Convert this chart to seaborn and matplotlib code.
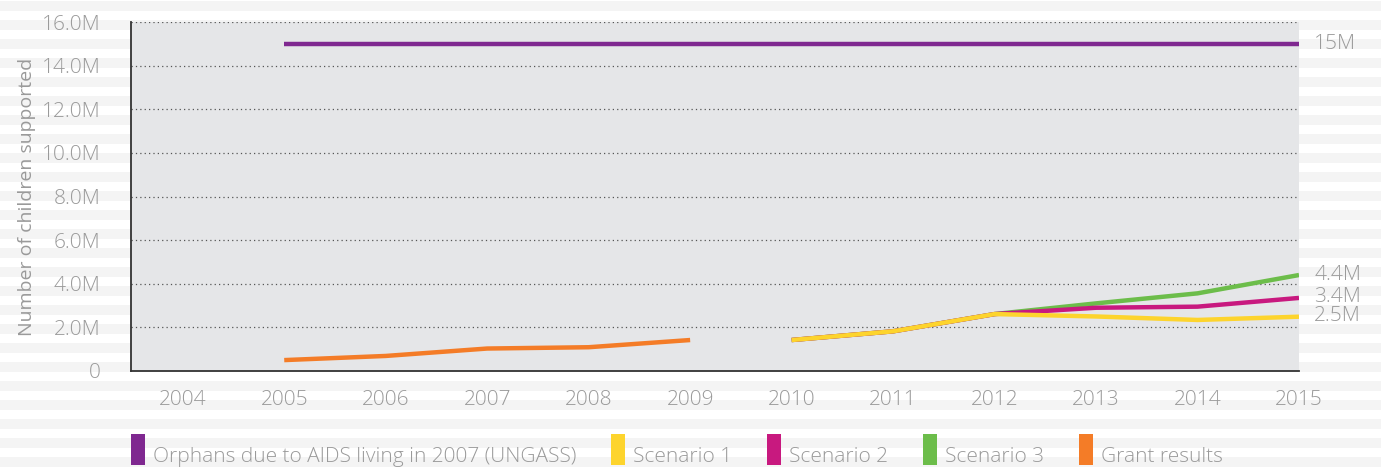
import pandas as pd
import matplotlib.pyplot as plt
import seaborn as sns
from matplotlib.patches import Rectangle

# Values in millions of children
years_orphans = [2005, 2015]
orphans = [15.0, 15.0]

years_grant = [2005, 2006, 2007, 2008, 2009]
grant = [0.50, 0.69, 1.03, 1.09, 1.42]

years_scen = [2010, 2011, 2012, 2013, 2014, 2015]
scenario1 = [1.42, 1.82, 2.61, 2.50, 2.34, 2.49]
scenario2 = [1.42, 1.82, 2.61, 2.90, 2.95, 3.35]
scenario3 = [1.42, 1.82, 2.61, 3.10, 3.56, 4.40]

end_labels = ["15M", "4.4M", "3.4M", "2.5M"]
end_values = [15.0, 4.4, 3.4, 2.5]

year_ticks = list(range(2004, 2016))
y_ticks = [0, 2, 4, 6, 8, 10, 12, 14, 16]
y_tick_labels = ["0", "2.0M", "4.0M", "6.0M", "8.0M", "10.0M", "12.0M", "14.0M", "16.0M"]

legend_names = ["Orphans due to AIDS living in 2007 (UNGASS)", "Scenario 1",
                "Scenario 2", "Scenario 3", "Grant results"]
colors = {"Orphans due to AIDS living in 2007 (UNGASS)": "#7f2890",
          "Scenario 1": "#fdd42d",
          "Scenario 2": "#c8197f",
          "Scenario 3": "#6cbd4a",
          "Grant results": "#f47c27"}

# long format table
frames = [
    pd.DataFrame({"Year": years_orphans, "Value": orphans, "Series": legend_names[0]}),
    pd.DataFrame({"Year": years_grant, "Value": grant, "Series": "Grant results"}),
    pd.DataFrame({"Year": years_scen, "Value": scenario3, "Series": "Scenario 3"}),
    pd.DataFrame({"Year": years_scen, "Value": scenario2, "Series": "Scenario 2"}),
    pd.DataFrame({"Year": years_scen, "Value": scenario1, "Series": "Scenario 1"}),
]
df = pd.concat(frames, ignore_index=True)

sns.set_style("white")
plt.rcParams["font.family"] = ["Open Sans", "DejaVu Sans"]
plt.rcParams["font.weight"] = "light"
grey = "#9a9a9a"
fs = 15

fig = plt.figure(figsize=(13.81, 4.68), dpi=100)
fig.patch.set_facecolor("white")

# striped background
for k in range(26):
    y0 = 1 - (19 * k + 11) / 468
    fig.patches.append(Rectangle((0, y0), 1, 10 / 468, transform=fig.transFigure,
                                 facecolor="#f4f4f4", edgecolor="none", zorder=-10))

ax = fig.add_axes([131 / 1381, 97 / 468, 1168 / 1381, 349 / 468])
ax.set_facecolor("#e5e6e8")

order = ["Orphans due to AIDS living in 2007 (UNGASS)", "Grant results",
         "Scenario 3", "Scenario 2", "Scenario 1"]
for name in order:
    sub = df[df["Series"] == name]
    sns.lineplot(data=sub, x="Year", y="Value", color=colors[name], lw=3.2, ax=ax,
                 legend=False, solid_capstyle="butt")

ax.set_xlim(2003.49, 2015)
ax.set_ylim(0, 16)
ax.set_xticks(year_ticks)
ax.set_xticklabels([str(y) for y in year_ticks], color=grey, fontsize=fs)
ax.set_yticks(y_ticks)
ax.set_yticklabels(y_tick_labels, color=grey, fontsize=fs)
ax.tick_params(axis="x", direction="out", length=6, width=1.2, color="#333333", pad=8)
ax.tick_params(axis="y", length=0, pad=22)
for yt in y_ticks[1:]:
    ax.axhline(yt, color="#555555", lw=0.9, ls=(0, (1, 2.5)), zorder=0.5)

for side in ["top", "right"]:
    ax.spines[side].set_visible(False)
for side in ["left", "bottom"]:
    ax.spines[side].set_color("#333333")
    ax.spines[side].set_linewidth(1.3)

ax.set_xlabel("")
ax.set_ylabel("Number of children supported", color=grey, fontsize=14, labelpad=4)

for lab, v in zip(end_labels, end_values):
    ax.annotate(lab, xy=(2015, v), xytext=(11, 0), textcoords="offset points",
                va="center", ha="left", color=grey, fontsize=fs, annotation_clip=False)

# legend
legend_x = [131, 611, 767, 923, 1079]
for name, x in zip(legend_names, legend_x):
    fig.patches.append(Rectangle((x / 1381, 3 / 468), 14 / 1381, 31 / 468,
                                 transform=fig.transFigure, facecolor=colors[name],
                                 edgecolor="none"))
    fig.text((x + 22) / 1381, 1 / 468, name, color=grey, fontsize=fs,
             ha="left", va="bottom")

fig.savefig("out.png", dpi=100, facecolor=fig.get_facecolor())
